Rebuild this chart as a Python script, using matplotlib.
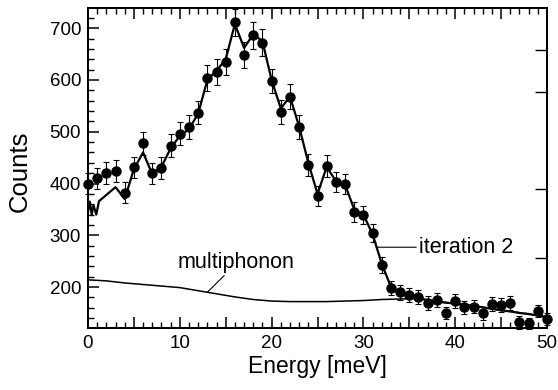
import numpy as np
import matplotlib
matplotlib.use("Agg")
import matplotlib.pyplot as plt
from matplotlib.ticker import MultipleLocator, FuncFormatter

plt.rcParams['font.family'] = ['Liberation Sans', 'DejaVu Sans']

# measured spectrum (one point per meV)
energy = np.arange(0, 51)
counts = [400, 410, 421, 424, 382, 431, 478, 420, 430, 473,
          496, 509, 537, 604, 615, 635, 711, 649, 686, 672,
          598, 538, 568, 509, 436, 376, 434, 403, 399, 345,
          339, 304, 243, 198, 190, 185, 181, 169, 175, 150,
          173, 161, 162, 149, 167, 165, 169, 132, 130, 154, 138]
errors = [20, 20, 21, 21, 20, 21, 22, 20, 21, 22,
          22, 23, 23, 25, 25, 25, 27, 25, 26, 26,
          24, 23, 24, 23, 21, 19, 21, 20, 20, 19,
          18, 17, 16, 14, 14, 14, 13, 13, 13, 12,
          13, 13, 13, 12, 13, 13, 13, 12, 11, 12, 12]

# fitted curve "iteration 2"
fit_e = [0, 0.2, 0.4, 0.6, 0.9, 1.2, 3, 4, 5, 6, 7, 8, 9, 10, 11, 12, 13, 14, 15,
         16, 17, 18, 19, 20, 21, 22, 23, 24, 25, 26, 27, 28, 29, 30, 31, 32, 33,
         34, 35, 36, 37, 38, 39, 40, 41, 42, 43, 44, 45, 46, 47, 48, 49, 50]
fit_c = [345, 365, 340, 358, 340, 366, 393, 370, 428, 460, 418, 432, 468, 492, 505,
         535, 600, 618, 640, 708, 662, 688, 675, 600, 545, 568, 510, 440, 380, 432,
         405, 398, 350, 340, 302, 245, 200, 188, 181, 178, 175, 172, 170, 168, 166,
         164, 161, 158, 155, 153, 150, 148, 145, 142]

# multiphonon contribution
mp_e = [0, 2, 4, 6, 8, 10, 12, 14, 16, 18, 20, 22, 24, 26, 28, 30, 32, 34, 36,
        38, 40, 42, 44, 46, 48, 50]
mp_c = [214, 212, 208, 205, 202, 199, 193, 187, 181, 176, 173, 172, 172, 172, 173,
        174, 176, 177, 178, 172, 168, 164, 158, 153, 148, 142]

right_ticks = [256, 389, 576, 657]

fig = plt.figure(figsize=(5.58, 3.9), dpi=100)
ax = fig.add_axes([0.1577, 0.159, 0.8226, 0.8205])

ax.plot(mp_e, mp_c, color='black', lw=1.1)
ax.plot(fit_e, fit_c, color='black', lw=1.6)
ax.errorbar(energy, counts, yerr=errors, fmt='o', color='black', ms=6.5,
            elinewidth=0.8, capsize=2.2, capthick=0.8, clip_on=False, zorder=3)

ax.set_xlim(0, 50)
ax.set_ylim(121, 739)

ax.xaxis.set_major_locator(MultipleLocator(5))
ax.xaxis.set_minor_locator(MultipleLocator(1))
ax.xaxis.set_major_formatter(FuncFormatter(lambda v, p: f'{v:.0f}' if v % 10 == 0 else ''))
ax.yaxis.set_major_locator(MultipleLocator(100))
ax.yaxis.set_minor_locator(MultipleLocator(20))
ax.tick_params(which='both', direction='in', top=True, right=False, labelsize=13.5, pad=5)
ax.tick_params(which='major', length=8, width=1.1)
ax.tick_params(which='minor', length=4.5, width=1.0)

ax2 = ax.twinx()
ax2.set_ylim(ax.get_ylim())
ax2.set_yticks(right_ticks)
ax2.tick_params(direction='in', length=9, width=1.0, labelright=False)

for a in (ax, ax2):
    for s in a.spines.values():
        s.set_linewidth(1.4)

ax.set_xlabel('Energy [meV]', fontsize=16.5)
ax.xaxis.set_label_coords(0.5, -0.085)
ax.set_ylabel('Counts', fontsize=18.5)
ax.yaxis.set_label_coords(-0.148, 0.49)
ax.yaxis.label.set_va('center')

ax.annotate('multiphonon', xy=(13.0, 190), xytext=(9.8, 248), fontsize=15.5,
            va='center', ha='left',
            arrowprops=dict(arrowstyle='-', color='black', lw=0.8,
                            shrinkA=0, shrinkB=0, relpos=(0.42, 0)))
ax.annotate('iteration 2', xy=(31.5, 277), xytext=(36.05, 277), fontsize=15.5,
            va='center', ha='left',
            arrowprops=dict(arrowstyle='-', color='black', lw=0.8,
                            shrinkA=0, shrinkB=0, relpos=(0, 0.5)))

fig.savefig('out.png', dpi=100)
